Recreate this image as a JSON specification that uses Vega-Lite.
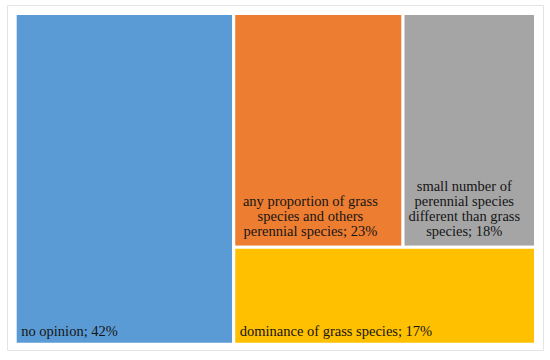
{
  "$schema": "https://vega.github.io/schema/vega-lite/v6.json",
  "autosize": "none",
  "width": 536,
  "height": 345,
  "padding": {"left": 7, "top": 5, "right": 7, "bottom": 10},
  "background": "white",
  "config": {"view": {"stroke": "#e4e4e4", "strokeWidth": 1}},
  "data": {
    "values": [
      {"label": "no opinion; 42%", "pct": 42, "col": 1, "row": 1},
      {"label": "any proportion of grass\nspecies and others\nperennial species; 23%", "pct": 23, "col": 2, "row": 1},
      {"label": "small number of\nperennial species\ndifferent than grass\nspecies; 18%", "pct": 18, "col": 2, "row": 1},
      {"label": "dominance of grass species; 17%", "pct": 17, "col": 2, "row": 2}
    ]
  },
  "transform": [
    {"joinaggregate": [{"op": "sum", "field": "pct", "as": "colSum"}], "groupby": ["col"]},
    {"joinaggregate": [{"op": "sum", "field": "pct", "as": "rowSum"}], "groupby": ["col", "row"]},
    {"window": [{"op": "sum", "field": "pct", "as": "colEnd"}], "sort": [{"field": "col"}], "frame": [null, 0], "ignorePeers": false},
    {"window": [{"op": "sum", "field": "pct", "as": "rowEnd"}], "groupby": ["col"], "sort": [{"field": "row"}], "frame": [null, 0], "ignorePeers": false},
    {"window": [{"op": "sum", "field": "pct", "as": "cellEnd"}], "groupby": ["col", "row"], "sort": [{"field": "pct", "order": "descending"}], "frame": [null, 0], "ignorePeers": true},
    {"calculate": "datum.colEnd - datum.colSum", "as": "colStart"},
    {"calculate": "datum.colStart + (datum.cellEnd - datum.pct) / datum.rowSum * datum.colSum", "as": "x0"},
    {"calculate": "datum.colStart + datum.cellEnd / datum.rowSum * datum.colSum", "as": "x1"},
    {"calculate": "(datum.rowEnd - datum.rowSum) / datum.colSum", "as": "y0"},
    {"calculate": "datum.rowEnd / datum.colSum", "as": "y1"},
    {"calculate": "(datum.x0 + datum.x1) / 2", "as": "xc"},
    {"calculate": "length(split(datum.label, '\\n'))", "as": "lines"}
  ],
  "layer": [
    {
      "mark": {"type": "rect", "stroke": "white", "strokeWidth": 3},
      "encoding": {
        "x": {"field": "x0", "type": "quantitative", "axis": null, "scale": {"domain": [-1.576, 101.44], "nice": false, "zero": false}},
        "x2": {"field": "x1"},
        "y": {"field": "y0", "type": "quantitative", "axis": null, "scale": {"domain": [-0.0257, 1.0175], "nice": false, "zero": false, "reverse": true}},
        "y2": {"field": "y1"},
        "color": {
          "field": "label", "type": "nominal", "legend": null,
          "scale": {
            "domain": ["no opinion; 42%", "any proportion of grass\nspecies and others\nperennial species; 23%", "small number of\nperennial species\ndifferent than grass\nspecies; 18%", "dominance of grass species; 17%"],
            "range": ["#5B9BD5", "#ED7D31", "#A5A5A5", "#FFC000"]
          }
        }
      }
    },
    {
      "transform": [{"filter": "datum.lines == 1"}],
      "mark": {"type": "text", "align": "left", "baseline": "bottom", "dx": 6, "dy": -5, "font": "Liberation Serif", "fontSize": 14.5, "color": "#151515"},
      "encoding": {
        "x": {"field": "x0", "type": "quantitative"},
        "y": {"field": "y1", "type": "quantitative"},
        "text": {"field": "label"}
      }
    },
    {
      "transform": [{"filter": "datum.lines == 3"}],
      "mark": {"type": "text", "align": "center", "baseline": "bottom", "dx": -8, "dy": -38, "font": "Liberation Serif", "fontSize": 14.5, "lineHeight": 15, "lineBreak": "\n", "color": "#151515"},
      "encoding": {
        "x": {"field": "xc", "type": "quantitative"},
        "y": {"field": "y1", "type": "quantitative"},
        "text": {"field": "label"}
      }
    },
    {
      "transform": [{"filter": "datum.lines == 4"}],
      "mark": {"type": "text", "align": "center", "baseline": "bottom", "dx": -5, "dy": -53, "font": "Liberation Serif", "fontSize": 14.5, "lineHeight": 15, "lineBreak": "\n", "color": "#151515"},
      "encoding": {
        "x": {"field": "xc", "type": "quantitative"},
        "y": {"field": "y1", "type": "quantitative"},
        "text": {"field": "label"}
      }
    }
  ]
}
